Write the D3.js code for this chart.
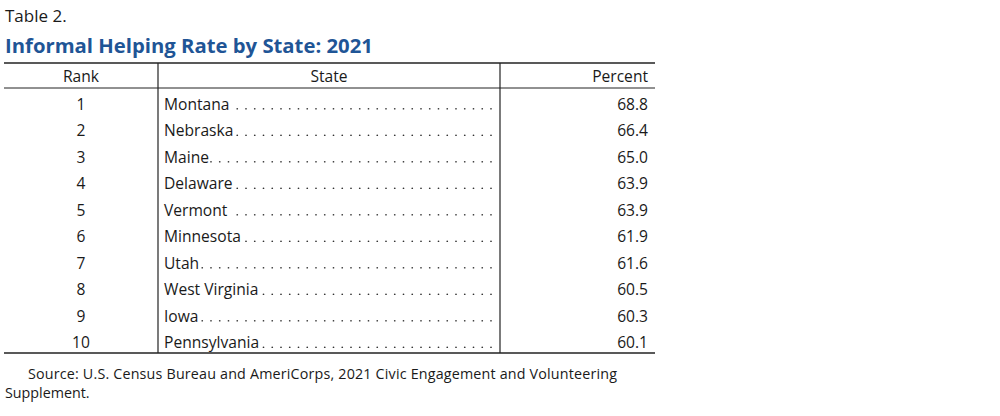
<!DOCTYPE html>
<html>
<head>
<meta charset="utf-8">
<script src="https://cdn.jsdelivr.net/npm/d3@7"></script>
<style>
  body { margin: 0; background: #fff; }
  text { font-family: "Open Sans", "Noto Sans", sans-serif; fill: #1a1a1a; }
</style>
</head>
<body>
<div id="chart"></div>
<script>
// table values
var ranks = [1, 2, 3, 4, 5, 6, 7, 8, 9, 10];
var states = ["Montana", "Nebraska", "Maine", "Delaware", "Vermont", "Minnesota", "Utah", "West Virginia", "Iowa", "Pennsylvania"];
var percents = [68.8, 66.4, 65.0, 63.9, 63.9, 61.9, 61.6, 60.5, 60.3, 60.1];
var headers = ["Rank", "State", "Percent"];

var W = 1000, H = 416;
var svg = d3.select("#chart").append("svg")
    .attr("width", W).attr("height", H);

// table frame
var left = 4, right = 655, col1 = 158, col2 = 500;
var topLine = 63, headLine = 88, bottomLine = 353;
var fs = "15.6px";

svg.append("text").attr("x", 5).attr("y", 22)
    .style("font-size", "17px").text("Table 2.");
svg.append("text").attr("x", 5).attr("y", 53)
    .style("font-size", "20.3px").style("font-weight", "bold").style("fill", "#1f5596")
    .text("Informal Helping Rate by State: 2021");

var y = d3.scaleBand()
    .domain(ranks)
    .range([headLine + 3, bottomLine + 3]);

// lines
svg.append("line").attr("x1", left).attr("x2", right).attr("y1", topLine).attr("y2", topLine)
    .attr("stroke", "#222").attr("stroke-width", 1.5);
svg.append("line").attr("x1", left).attr("x2", right).attr("y1", headLine).attr("y2", headLine)
    .attr("stroke", "#222").attr("stroke-width", 1);
svg.append("line").attr("x1", left).attr("x2", right).attr("y1", bottomLine).attr("y2", bottomLine)
    .attr("stroke", "#222").attr("stroke-width", 1.5);
[col1, col2].forEach(function (cx) {
    svg.append("line").attr("x1", cx).attr("x2", cx).attr("y1", topLine).attr("y2", bottomLine)
        .attr("stroke", "#222").attr("stroke-width", 1.2);
});

// header row
var headX = [(left + col1) / 2, (col1 + col2) / 2, 648];
var headAnchor = ["middle", "middle", "end"];
svg.selectAll(".head")
    .data(headers)
    .enter().append("text")
    .attr("class", "head")
    .attr("x", function (d, i) { return headX[i]; })
    .attr("y", 82)
    .attr("text-anchor", function (d, i) { return headAnchor[i]; })
    .style("font-size", fs)
    .text(function (d) { return d; });

var rows = svg.selectAll(".row")
    .data(ranks)
    .enter().append("g")
    .attr("class", "row")
    .attr("transform", function (d) { return "translate(0," + (y(d) + y.bandwidth() / 2 + 5.5) + ")"; });

rows.append("text")
    .attr("x", 81).attr("text-anchor", "middle")
    .style("font-size", fs)
    .text(function (d) { return d; });

var stateText = rows.append("text")
    .attr("x", 164)
    .style("font-size", fs)
    .text(function (d, i) { return states[i]; });

rows.append("text")
    .attr("x", 648).attr("text-anchor", "end")
    .style("font-size", fs)
    .text(function (d, i) { return percents[i].toFixed(1); });

// dot leaders aligned on a grid ending at 491
var dotStep = 8.75, dotEnd = 491;
stateText.each(function (d, i) {
    var w = this.getComputedTextLength();
    var startX = 164 + w + 2;
    var g = d3.select(this.parentNode);
    var pos = [];
    for (var x = dotEnd; x >= startX; x -= dotStep) pos.push(x);
    g.selectAll(".dot").data(pos).enter().append("circle")
        .attr("class", "dot")
        .attr("cx", function (p) { return p; })
        .attr("cy", -1)
        .attr("r", 0.85)
        .attr("fill", "#333");
});

// source note
svg.append("text").attr("x", 28).attr("y", 379)
    .style("font-size", "14.3px")
    .attr("textLength", 589).attr("lengthAdjust", "spacing")
    .text("Source: U.S. Census Bureau and AmeriCorps, 2021 Civic Engagement and Volunteering");
svg.append("text").attr("x", 5).attr("y", 398)
    .style("font-size", "14.3px")
    .text("Supplement.");
</script>
</body>
</html>
